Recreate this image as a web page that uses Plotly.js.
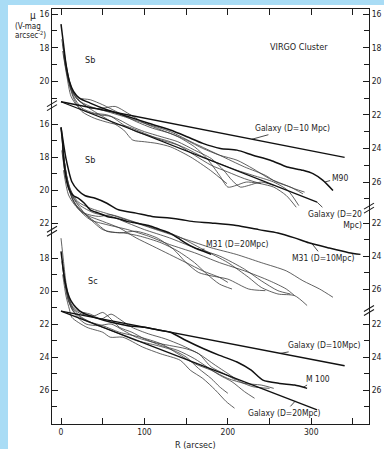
<!DOCTYPE html>
<html><head><meta charset="utf-8">
<script src="https://cdn.plot.ly/plotly-3.0.1.min.js"></script>
<style>
html,body{margin:0;padding:0;background:#a9dcf5;width:384px;height:449px;overflow:hidden}
#chart{position:absolute;left:8px;top:5px;width:376px;height:444px;background:#fff}
</style></head><body><div id="chart"></div>
<script>
// ---------- data (R in arcsec, mu in V-mag arcsec^-2) ----------
const xMajorTicks = [0,100,200,300];
const xMinorTicks = [50,150,250,350];

// Galaxy model lines (used in top and bottom panels)
const galaxy10R = [0, 340];
const galaxy10Mu = [21.22, 24.53];
const galaxy20R = [0, 307];
const galaxy20Mu = [21.22, 27.2];

// Top panel (Sb) - M90
const m90R = [0,3,6,10,15,22,35,55,80,105,131,151,170,191,211,230,251,271,290,302,314,326];
const m90Mu = [16.6,17.8,19.0,20.0,20.6,21.0,21.3,21.7,22.1,22.5,22.9,23.3,23.7,24.0,24.1,24.4,24.7,25.1,25.3,25.5,25.9,26.5];

// Top panel thin profiles
const t1R = [1,5,10,15,25,40,60,75,86,100,115,131,155,179,199];
const t1Mu = [17.5,18.8,20.0,20.7,21.3,21.8,22.4,22.9,23.5,23.6,23.7,23.9,24.5,25.3,26.1];
const t2R = [2,6,12,20,35,50,65,80,100,120,140,160,175,190,200,210,222,240];
const t2Mu = [17.8,19.2,20.5,21.1,21.6,21.6,21.5,21.9,22.5,22.9,23.3,23.9,24.6,25.6,26.3,26.2,26.0,26.1];
const t3R = [3,8,14,22,35,50,70,90,110,131,150,170,190,211,230,250,265,280,292];
const t3Mu = [18.0,19.5,20.6,21.0,21.1,21.4,21.9,22.4,22.8,23.1,23.5,24.0,24.4,24.7,25.2,25.8,26.1,26.4,26.6];
const t4R = [2,7,12,20,30,45,60,75,90,110,131,150,170,190,211,230,255,272,285];
const t4Mu = [18.2,19.7,20.9,21.5,21.8,22.0,22.1,22.6,23.0,23.3,23.6,24.0,24.5,24.9,25.3,25.6,26.0,26.5,27.4];
const t5R = [4,9,15,25,40,55,70,85,100,120,140,160,180,195,205,215,225,240,255];
const t5Mu = [18.6,19.9,20.9,21.6,21.9,22.0,22.3,22.7,23.0,23.3,23.6,24.1,24.6,25.3,25.9,26.3,26.2,26.0,26.2];
const t6R = [5,12,20,35,55,75,100,131,160,190,220,245,258,275,290];
const t6Mu = [19.0,20.4,21.1,21.5,21.8,22.1,22.5,23.0,23.7,24.4,25.1,25.6,26.0,26.3,26.7];
const t7R = [3,8,15,25,40,60,80,100,120,140,160,180,200,220,240,255,270,282];
const t7Mu = [18.4,19.8,21.0,21.8,22.2,22.5,22.7,23.1,23.5,23.8,24.4,25.0,25.4,25.8,26.1,26.3,26.8,27.5];

// Middle panel (Sb) - M31 at two distances
const m31d10R = [0,3,6,13,20,29,41,55,69,90,109,130,145,157,180,210,237,260,280,297,320,345,359];
const m31d10Mu = [16.2,17.2,18.1,19.5,20.0,20.35,20.5,20.8,21.2,21.4,21.6,21.7,21.8,21.9,22.0,22.15,22.4,22.6,22.9,23.2,23.5,23.8,23.9];
const m31d20R = [0,2,3,7,10,15,21,28,35,45,55,65,73,79,90,105,119,130,140,149,160,170,180];
const m31d20Mu = [16.2,17.2,18.1,19.5,20.0,20.35,20.5,20.8,21.2,21.4,21.6,21.7,21.8,21.9,22.0,22.15,22.4,22.6,22.9,23.2,23.5,23.7,23.9];

// Middle panel thin profiles
const s1R = [1,5,10,20,35,60,90,120,150,180,210,240,270,290,310,326];
const s1Mu = [16.8,18.6,19.8,20.7,21.1,21.5,22.0,22.5,23.0,23.5,23.9,24.4,24.9,25.5,26.0,26.5];
const s2R = [2,6,12,22,40,60,80,100,130,160,190,220,240,260,275];
const s2Mu = [17.2,19.0,20.2,20.9,21.4,21.6,22.0,22.4,22.9,23.5,24.0,24.8,25.5,26.1,26.3];
const s3R = [1,6,14,25,40,55,75,95,120,140,160,175,190,205];
const s3Mu = [17.6,19.3,20.6,21.3,21.9,22.5,22.6,22.8,23.2,23.7,24.4,25.1,25.7,26.0];
const s4R = [3,8,16,28,45,60,80,110,140,170,200,225,240,260,280,295];
const s4Mu = [18.0,19.6,20.8,21.4,21.6,21.5,21.8,22.3,22.8,23.6,24.4,25.3,25.9,26.3,26.4,27.0];
const s5R = [2,7,15,30,50,70,90,115,135,150,165,180,200,225,245];
const s5Mu = [17.5,19.2,20.5,21.5,22.4,22.6,22.5,22.9,23.6,24.4,25.0,25.2,25.4,26.0,26.1];
const s6R = [4,10,20,35,55,80,105,130,160,190,220,250,270,280];
const s6Mu = [18.3,20.0,21.1,21.8,22.1,22.4,22.8,23.3,23.8,24.4,24.9,25.5,26.0,26.4];
const s7R = [3,9,18,30,50,70,90,110,130,150,170,190,200];
const s7Mu = [18.8,20.3,21.0,21.5,21.9,22.3,22.9,23.4,23.9,24.4,24.9,25.3,25.6];

// Bottom panel (Sc) - M100
const m100R = [0,2,4,8,12,18,25,40,60,80,100,120,131,150,171,190,211,228,242,262,280,295];
const m100Mu = [17.6,18.4,19.2,20.1,20.6,21.0,21.3,21.6,21.9,22.1,22.2,22.4,22.5,23.0,23.5,23.9,24.3,24.8,25.4,25.6,25.7,25.9];

// Bottom panel thin profiles
const b1R = [2,6,10,13,31,50,59,74,98,119,143,155,170,185,198,208];
const b1Mu = [19.0,20.3,21.1,21.6,22.2,22.5,22.8,22.8,23.4,23.8,24.2,24.8,25.3,26.0,26.7,27.1];
const b2R = [1,5,9,15,25,40,50,58,70,85,100,120,140,160,175,190,205,220,232];
const b2Mu = [18.2,19.6,20.6,21.1,21.4,21.5,21.3,21.6,22.2,22.5,22.9,23.3,23.6,24.1,24.6,25.1,25.5,26.1,26.5];
const b3R = [2,6,12,20,35,48,60,70,85,105,125,145,165,185,200,215,230,250];
const b3Mu = [18.5,19.8,20.8,21.2,21.4,21.7,21.4,21.7,22.2,22.6,22.9,23.3,23.8,24.5,25.0,25.5,25.8,25.9];
const b4R = [3,7,12,20,30,45,60,75,90,110,130,150,165,180,195,210];
const b4Mu = [18.8,20.0,21.0,21.6,22.0,22.1,22.0,22.4,22.8,23.1,23.3,23.5,23.8,24.6,25.0,25.4];
const b5R = [0,3,6,10,16,25,40,55,70,90,115,135,150,165,180,190,200];
const b5Mu = [16.8,18.2,19.5,20.5,21.2,21.6,22.0,22.3,22.6,23.0,23.3,23.6,24.0,24.7,25.3,25.8,26.2];
const b6R = [4,9,16,30,50,70,95,120,140,160,180,200,220,240,255];
const b6Mu = [19.3,20.6,21.3,21.8,22.1,22.5,22.8,23.2,23.8,24.4,24.8,25.3,25.6,25.7,25.9];

// y tick sets for each axis section (labelled, unlabelled)
const topLeftTicks = [16,18,20];        const topLeftMinor = [17,19,21];
const topRightTicks = [16,18,20,22,24,26]; const topRightMinor = [17,19,21,23,25,27];
const midLeftTicks = [16,18,20,22];     const midLeftMinor = [17,19,21];
const midRightTicks = [22,24,26];       const midRightMinor = [23,25];
const botLeftTicks = [18,20,22,24,26];  const botLeftMinor = [19,21,23,25,27];
const botRightTicks = [22,24,26];       const botRightMinor = [23,25,27];

// ---------- styling ----------
const FONT = 'DejaVu Sans Condensed, Liberation Sans Narrow, DejaVu Sans, sans-serif';
const INK = '#1c1c1c';
const THIN = {color:'#3a3a3a', width:0.8};
const THICK = {color:'#111', width:1.5};

function curve(R, mu, yax, line){
  return {x:R, y:mu, xaxis:'x', yaxis:yax, mode:'lines', type:'scatter',
    line:Object.assign({shape:'spline', smoothing:0.7}, line), hoverinfo:'skip', showlegend:false};
}
function straight(R, mu, yax){
  return {x:R, y:mu, xaxis:'x', yaxis:yax, mode:'lines', type:'scatter',
    line:{color:'#111', width:1.3}, hoverinfo:'skip', showlegend:false};
}

const traces = [
  // top
  curve(t1R,t1Mu,'y',THIN), curve(t2R,t2Mu,'y',THIN), curve(t3R,t3Mu,'y',THIN),
  curve(t4R,t4Mu,'y',THIN), curve(t5R,t5Mu,'y',THIN), curve(t6R,t6Mu,'y',THIN),
  curve(t7R,t7Mu,'y',THIN),
  curve(m90R,m90Mu,'y',THICK),
  straight(galaxy10R,galaxy10Mu,'y'), straight(galaxy20R,galaxy20Mu,'y'),
  // middle
  curve(s1R,s1Mu,'y3',THIN), curve(s2R,s2Mu,'y3',THIN), curve(s3R,s3Mu,'y3',THIN),
  curve(s4R,s4Mu,'y3',THIN), curve(s5R,s5Mu,'y3',THIN), curve(s6R,s6Mu,'y3',THIN),
  curve(s7R,s7Mu,'y3',THIN),
  curve(m31d10R,m31d10Mu,'y3',THICK), curve(m31d20R,m31d20Mu,'y3',THICK),
  // bottom
  curve(b1R,b1Mu,'y5',THIN), curve(b2R,b2Mu,'y5',THIN), curve(b3R,b3Mu,'y5',THIN),
  curve(b4R,b4Mu,'y5',THIN), curve(b5R,b5Mu,'y5',THIN), curve(b6R,b6Mu,'y5',THIN),
  curve(m100R,m100Mu,'y5',THICK),
  straight(galaxy10R,galaxy10Mu,'y5'), straight(galaxy20R,galaxy20Mu,'y5'),
  // placeholders so the right-hand axes are drawn
  {x:[],y:[],xaxis:'x',yaxis:'y2',type:'scatter',showlegend:false},
  {x:[],y:[],xaxis:'x',yaxis:'y4',type:'scatter',showlegend:false},
  {x:[],y:[],xaxis:'x',yaxis:'y6',type:'scatter',showlegend:false}
];

const tickFont = {family:FONT, size:8.5, color:INK};
function yax(range, ticks, minor, side, extra){
  return Object.assign({
    range: range, side: side, tickmode:'array', tickvals: ticks, ticktext: ticks.map(String),
    ticks:'inside', ticklen:6, tickcolor:INK, tickwidth:1,
    minor:{tickmode:'array', tickvals:minor, ticks:'inside', ticklen:5, tickcolor:INK, tickwidth:1, showgrid:false},
    showline:true, linecolor:INK, linewidth:1, showgrid:false, zeroline:false,
    tickfont: tickFont, fixedrange:true
  }, extra || {});
}

const TOP = [40.40, 15.70];
const MID = [34.18, 9.03];
const BOT = [28.06, 2.91];

// break marks ("//") on the axes
function brk(xp, yref, yv){
  const s = [];
  [-2, 2].forEach(off => {
    s.push({type:'line', xref:'paper', xsizemode:'pixel', xanchor:xp, x0:-5, x1:5,
      yref:yref, ysizemode:'pixel', yanchor:yv, y0:off-3, y1:off+3,
      line:{color:INK, width:1.1}});
  });
  return s;
}
const shapes = [].concat(
  brk(0, 'y', 21.45), brk(0, 'y3', 22.5),
  brk(1, 'y', 27.55), brk(1, 'y3', 27.3)
);

function note(text, x, y, yref, ax, ay){
  return {text:text, x:x, y:y, xref:'x', yref:yref, showarrow:true, arrowhead:0,
    arrowwidth:0.8, arrowcolor:INK, ax:ax, ay:ay, align:'right',
    font:{family:FONT, size:8.5, color:INK}};
}
function ptext(text, xp, yp, size){
  return {text:text, x:xp, y:yp, xref:'paper', yref:'paper', showarrow:false,
    xanchor:'center', yanchor:'middle',
    font:{family:FONT, size:size||9, color:INK}};
}

const annotations = [
  note('Galaxy (D=10 Mpc)', 229, 23.45, 'y', 40, -11),
  note('M90', 316, 26.0, 'y', 15, -4),
  note('Galaxy (D=20<br>Mpc)', 307, 27.2, 'y', 18, 17),
  note('M31 (D=20Mpc)', 169, 23.6, 'y3', 35, -5),
  note('M31 (D=10Mpc)', 300, 23.2, 'y3', 12, 15),
  note('Galaxy (D=10Mpc)', 263, 23.78, 'y5', 44, -8),
  note('M 100', 290, 25.85, 'y5', 15, -9),
  note('Galaxy (D=20Mpc)', 281, 26.66, 'y5', -11, 12),
  ptext('VIRGO Cluster', (299-52)/317, (424-47)/415, 9),
  ptext('Sb', (90-52)/317, (424-60)/415, 9),
  ptext('Sb', (90-52)/317, (424-160)/415, 9),
  ptext('Sc', (93-52)/317, (424-281)/415, 9),
  ptext('μ', (33-52)/317, (424-15)/415, 10),
  ptext('(V-mag', (28-52)/317, (424-26)/415, 8),
  ptext('arcsec<sup>-2</sup>)', (30-52)/317, (424-35)/415, 8),
  ptext('R (arcsec)', (195-52)/317, (424-445)/415, 9)
];

const layout = {
  width:376, height:444,
  margin:{l:44, r:15, t:4, b:25, pad:0},
  paper_bgcolor:'#ffffff', plot_bgcolor:'#ffffff',
  showlegend:false,
  xaxis:{range:[-10.8, 369.2], tickmode:'array', tickvals:xMajorTicks, ticktext:xMajorTicks.map(String),
    ticks:'inside', ticklen:6, tickcolor:INK,
    minor:{tickmode:'array', tickvals:xMinorTicks, ticks:'inside', ticklen:6, tickcolor:INK, showgrid:false},
    showline:true, linecolor:INK, linewidth:1,
    mirror:'ticks', showgrid:false, zeroline:false, tickfont:tickFont, fixedrange:true},
  yaxis: yax(TOP, topLeftTicks, topLeftMinor, 'left', {anchor:'x'}),
  yaxis2: yax(TOP, topRightTicks, topRightMinor, 'right', {anchor:'x', overlaying:'y'}),
  yaxis3: yax(MID, midLeftTicks, midLeftMinor, 'left', {anchor:'x', overlaying:'y'}),
  yaxis4: yax(MID, midRightTicks, midRightMinor, 'right', {anchor:'x', overlaying:'y'}),
  yaxis5: yax(BOT, botLeftTicks, botLeftMinor, 'left', {anchor:'x', overlaying:'y'}),
  yaxis6: yax(BOT, botRightTicks, botRightMinor, 'right', {anchor:'x', overlaying:'y'}),
  shapes: shapes,
  annotations: annotations
};

Plotly.newPlot('chart', traces, layout, {displayModeBar:false, staticPlot:true});
</script></body></html>
